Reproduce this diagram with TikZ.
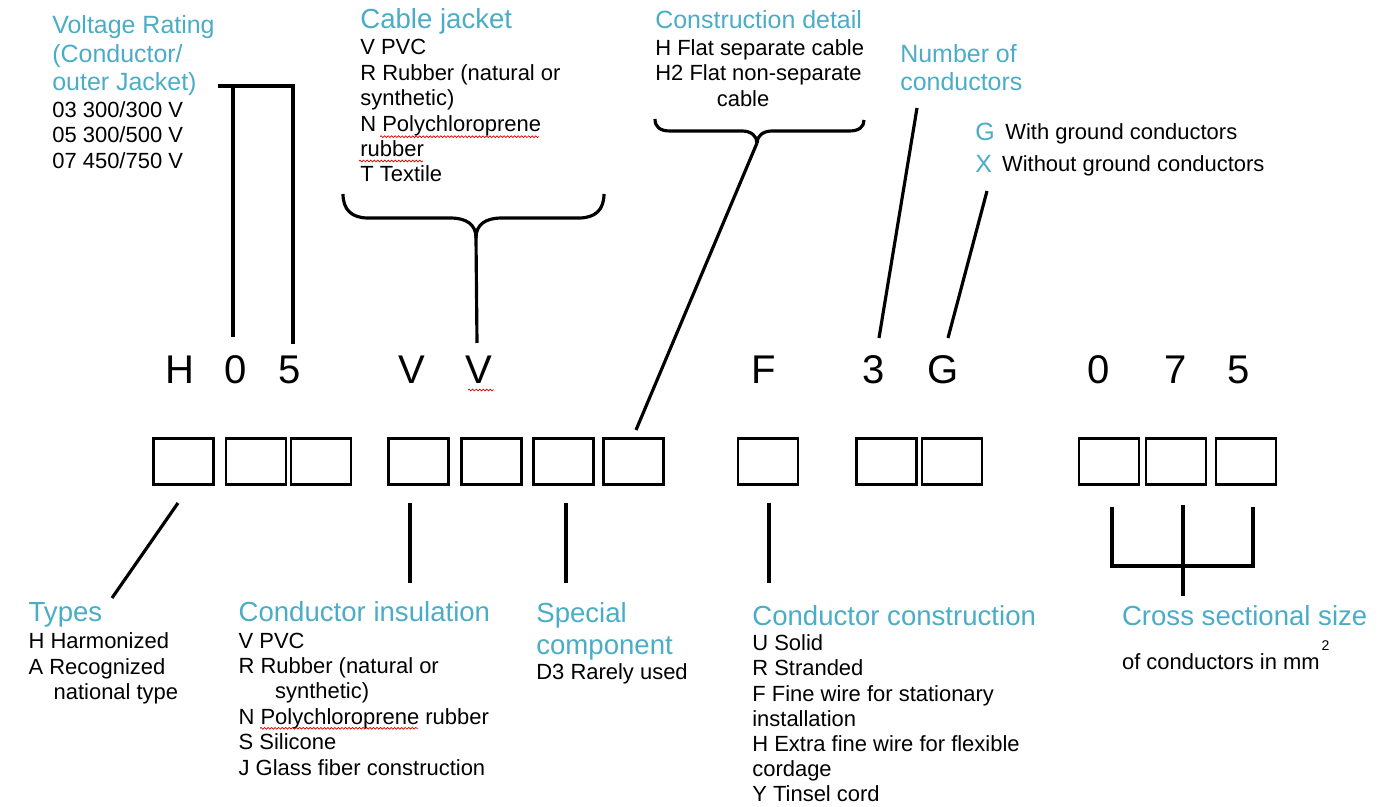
\documentclass[tikz,border=0pt]{standalone}
\usepackage{fontspec}
\setmainfont{Liberation Sans}
\usepackage{tikz}
\usetikzlibrary{decorations.pathmorphing}
\definecolor{cableAqua}{HTML}{4BACC6}
\colorlet{colHeading}{cableAqua}

\begin{document}
\begin{tikzpicture}[x=0.02cm, y=-0.02cm,
        head/.style={text=colHeading, font=\fontsize{15.7}{18}\selectfont, inner sep=0pt, align=left},
        headsm/.style={head, font=\fontsize{14.2}{16.2}\selectfont},
        item/.style={font=\fontsize{12.5}{14.45}\selectfont, inner sep=0pt, align=left},
        letter/.style={font=\fontsize{22.8}{26}\selectfont, inner sep=0pt, anchor=base},
        cell/.style={draw, line width=1.5pt, minimum width=1.2cm, minimum height=0.92cm, inner sep=0pt},
        conn/.style={line width=1.8pt},
        squig/.style={draw=red!85!black, line width=0.4pt, decorate, decoration={snake, amplitude=0.5pt, segment length=2pt}}
    ]
    \useasboundingbox (0,0) rectangle (1384,807);

    % Voltage rating
    \node[headsm, anchor=north west] (voltHead) at (52,15.4) {Voltage Rating\\(Conductor/\\outer Jacket)};
    \node[item, anchor=north west] (voltList) at (52,101) {03 300/300 V\\05 300/500 V\\07 450/750 V};

    % Cable jacket
    \node[head, anchor=base west] (jacketHead) at (360,28.3) {Cable jacket};
    \node[item, anchor=north west] (jacketList) at (360,39.3) {V PVC\\R Rubber (natural or\\synthetic)\\N Polychloroprene\\rubber\\T Textile};

    % Construction detail
    \node[headsm, anchor=base west] (detailHead) at (655,28.3) {Construction detail};
    \node[item, anchor=north west] (detailList) at (655,39.3) {H Flat separate cable\\H2 Flat non-separate\\\hspace*{1.23cm}cable};

    % Number of conductors
    \node[headsm, anchor=north west] (numHead) at (900,43.8) {Number of\\conductors};
    \node[headsm, anchor=base west] (gKey) at (975,140.7) {G};
    \node[item, anchor=base west] (gText) at (1005,140) {With ground conductors};
    \node[headsm, anchor=base west] (xKey) at (975,173) {X};
    \node[item, anchor=base west] (xText) at (1001.7,172) {Without ground conductors};

    % Code letters
    \node[letter] (lH) at (180,384) {H};
    \node[letter] (l0) at (235.7,384) {0};
    \node[letter] (l5) at (290,384) {5};
    \node[letter] (lV) at (411.7,384) {V};
    \node[letter] (lVb) at (479.3,384) {V};
    \node[letter] (lF) at (764,384) {F};
    \node[letter] (l3) at (873.3,384) {3};
    \node[letter] (lG) at (943.3,384) {G};
    \node[letter] (l0b) at (1098.3,384) {0};
    \node[letter] (l7) at (1176,384) {7};
    \node[letter] (l5b) at (1239,384) {5};

    % Boxes
    \node[cell] (b1) at (183.2,461.5) {};
    \node[cell] (b2) at (255.9,461.5) {};
    \node[cell] (b3) at (320.9,461.5) {};
    \node[cell] (b4) at (418.3,461.5) {};
    \node[cell] (b5) at (491.2,461.5) {};
    \node[cell] (b6) at (563.3,461.5) {};
    \node[cell] (b7) at (633.2,461.5) {};
    \node[cell] (b8) at (768,461.5) {};
    \node[cell] (b9) at (886.5,461.5) {};
    \node[cell] (b10) at (951.9,461.5) {};
    \node[cell] (b11) at (1108.9,461.5) {};
    \node[cell] (b12) at (1175.9,461.5) {};
    \node[cell] (b13) at (1245.9,461.5) {};

    % Types
    \node[head, anchor=base west] (typesHead) at (28.3,621.7) {Types};
    \node[item, anchor=north west] (typesList) at (28.3,632.5) {H Harmonized\\A Recognized\\\hspace*{0.5cm}national type};

    % Conductor insulation
    \node[head, anchor=base west] (insulHead) at (238.3,621.7) {Conductor insulation};
    \node[item, anchor=north west] (insulList) at (238.3,632.5) {V PVC\\R Rubber (natural or\\\hspace*{0.73cm}synthetic)\\N Polychloroprene rubber\\S Silicone\\J Glass fiber construction};

    % Special component
    \node[head, anchor=north west] (specHead) at (536,602.2) {Special\\component};
    \node[item, anchor=base west] (specList) at (536,680) {D3 Rarely used};

    % Conductor construction
    \node[head, anchor=base west] (constrHead) at (752,625) {Conductor construction};
    \node[item, anchor=north west, font=\fontsize{12.5}{14.3}\selectfont] (constrList) at (752,634.5) {U Solid\\R Stranded\\F Fine wire for stationary\\installation\\H Extra fine wire for flexible\\cordage\\Y Tinsel cord};

    % Cross sectional size
    \node[head, anchor=base west] (crossHead) at (1121.7,625) {Cross sectional size};
    \node[item, anchor=base west] (crossList) at (1121.7,670) {of conductors in mm\raisebox{0.386cm}{\fontsize{8}{9}\selectfont\kern1pt 2}};

    % Connector ends
    \coordinate (voltA) at (233,337);
    \coordinate (voltB) at (233,86);
    \coordinate (voltC) at (218,86);
    \coordinate (voltD) at (293,86);
    \coordinate (voltE) at (293,344);
    \coordinate (jacketL) at (343,194);
    \coordinate (jacketR) at (604,194);
    \coordinate (jacketTip) at (476,238);
    \coordinate (jacketEnd) at (477,343);
    \coordinate (detailL) at (655,119);
    \coordinate (detailR) at (864,120);
    \coordinate (detailTip) at (757,143);
    \coordinate (detailEnd) at (636,430);
    \coordinate (numA) at (917,108);
    \coordinate (numB) at (879,338);
    \coordinate (gxA) at (987,191);
    \coordinate (gxB) at (948,338);
    \coordinate (typesA) at (178,503);
    \coordinate (typesB) at (112,598);
    \coordinate (insulA) at (410,503);
    \coordinate (insulB) at (410,583);
    \coordinate (specA) at (566,503);
    \coordinate (specB) at (566,583);
    \coordinate (constrA) at (769,503);
    \coordinate (constrB) at (769,583);
    \coordinate (crossL) at (1112,507);
    \coordinate (crossLB) at (1112,566);
    \coordinate (crossRB) at (1253,566);
    \coordinate (crossR) at (1253,507);
    \coordinate (crossM) at (1183,505);
    \coordinate (crossMB) at (1183,596);

    % Connectors top
    \draw[conn] (voltA) -- (voltB);
    \draw[conn] (voltC) -- (voltD) -- (voltE);
    \draw[conn] (jacketL) .. controls (343,210) and (352,218) .. (368,218) -- (450,218) .. controls (466,218) and (476,224) .. (jacketTip);
    \draw[conn] (jacketR) .. controls (604,210) and (595,218) .. (579,218) -- (502,218) .. controls (486,218) and (476,224) .. (jacketTip);
    \draw[conn] (jacketTip) -- (jacketEnd);
    \draw[conn] (detailL) .. controls (655,127) and (660,131) .. (670,131) -- (742,131) .. controls (751,131) and (757,136) .. (detailTip);
    \draw[conn] (detailR) .. controls (864,127) and (859,131) .. (849,131) -- (772,131) .. controls (763,131) and (757,136) .. (detailTip);
    \draw[conn] (detailTip) -- (detailEnd);
    \draw[conn] (numA) -- (numB);
    \draw[conn] (gxA) -- (gxB);

    % Connectors bottom
    \draw[conn] (typesA) -- (typesB);
    \draw[conn] (insulA) -- (insulB);
    \draw[conn] (specA) -- (specB);
    \draw[conn] (constrA) -- (constrB);
    \draw[conn] (crossL) -- (crossLB) -- (crossRB) -- (crossR);
    \draw[conn] (crossM) -- (crossMB);

    % spelling marks
    \draw[squig] (380,136.7) -- (539,136.7);
    \draw[squig] (359,161) -- (423,161);
    \draw[squig] (468,390) -- (494,390);
    \draw[squig] (260,728.3) -- (418,728.3);

\end{tikzpicture}
\end{document}
